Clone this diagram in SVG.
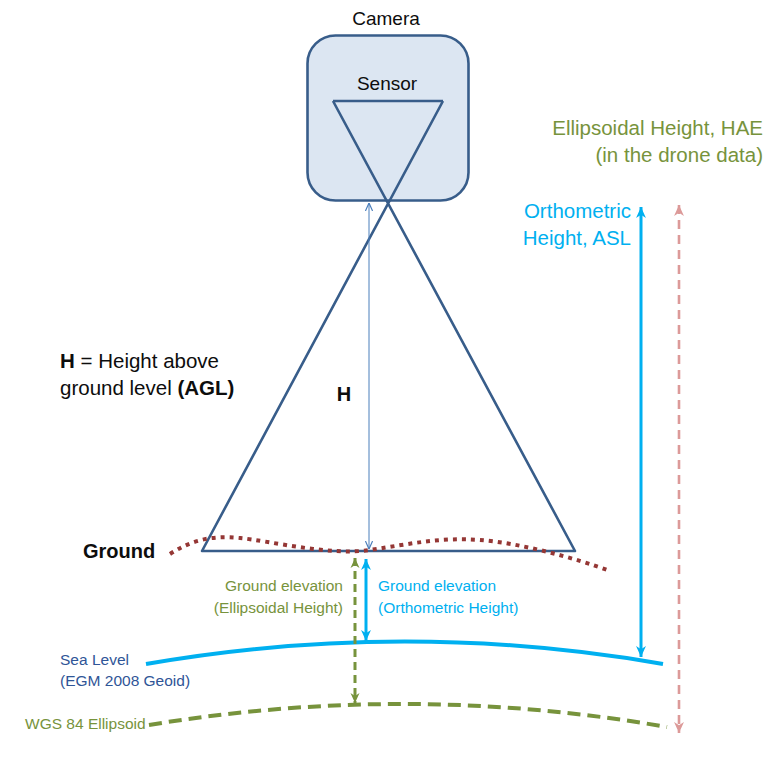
<svg xmlns="http://www.w3.org/2000/svg" width="779" height="771" viewBox="0 0 779 771">
<style>
text{font-family:"Liberation Sans",Arial,sans-serif}
.big{font-size:20.5px}
.small{font-size:15.5px}
.b{font-weight:bold}
.dk{fill:#0d0d0d}
.green{fill:#77933c}
.cyan{fill:#00b0f0}
.navy{fill:#2f5597}
.frame{fill:none;stroke:#385d8a;stroke-width:2.6;stroke-linejoin:round}
</style>
<defs>
<marker id="aH" viewBox="0 0 10 10" refX="10" refY="5" markerWidth="8" markerHeight="8" markerUnits="userSpaceOnUse" orient="auto-start-reverse"><path d="M0,0.5 L10,5 L0,9.5" fill="none" stroke="#4a7ebb" stroke-width="1.5"/></marker>
<marker id="aC" viewBox="0 0 10 10" refX="10" refY="5" markerWidth="11" markerHeight="11" markerUnits="userSpaceOnUse" orient="auto-start-reverse"><path d="M0,0.5 L10,5 L0,9.5 L3,5 z" fill="#00b0f0"/></marker>
<marker id="aG" viewBox="0 0 10 10" refX="10" refY="5" markerWidth="10" markerHeight="10" markerUnits="userSpaceOnUse" orient="auto-start-reverse"><path d="M0,0.5 L10,5 L0,9.5 L3,5 z" fill="#77933c"/></marker>
<marker id="aP" viewBox="0 0 10 10" refX="10" refY="5" markerWidth="11" markerHeight="11" markerUnits="userSpaceOnUse" orient="auto-start-reverse"><path d="M0,0.5 L10,5 L0,9.5 L3,5 z" fill="#dc9a99"/></marker>
</defs>

<g id="camera">
<rect x="307.5" y="35.5" width="161" height="165" rx="28" fill="#dce6f2" stroke="#385d8a" stroke-width="2.6"/>
<text x="386" y="25" text-anchor="middle" class="dk" style="font-size:19px">Camera</text>
<text x="387" y="90" text-anchor="middle" class="dk" style="font-size:19px">Sensor</text>
</g>

<g id="view-cone">
<path class="frame" d="M333,101 L443,101 M333,101 L575,551 L202,551 L443,101"/>
</g>

<g id="ground">
<path d="M170,554 C190,541 210,535 240,538 S330,556 370,550 S440,537 480,540 S575,558 610,571" fill="none" stroke="#953735" stroke-width="4" stroke-dasharray="4,5"/>
<text x="83" y="558" class="b dk" style="font-size:20px">Ground</text>
</g>

<g id="sea-level">
<path d="M146,664 Q405,619 663,664" fill="none" stroke="#00b0f0" stroke-width="4"/>
<text x="60" y="665" class="small navy">Sea Level</text>
<text x="60" y="686" class="small navy">(EGM 2008 Geoid)</text>
</g>

<g id="ellipsoid">
<path d="M149,725 Q408,682 667,727" fill="none" stroke="#77933c" stroke-width="4" stroke-dasharray="13,7"/>
<text x="25" y="729" class="small green">WGS 84 Ellipsoid</text>
</g>

<g id="connectors">
<line x1="369" y1="203" x2="369" y2="549" stroke="#4a7ebb" stroke-width="1" marker-start="url(#aH)" marker-end="url(#aH)"/>
<line x1="355" y1="558" x2="355" y2="703" stroke="#77933c" stroke-width="3" stroke-dasharray="8,5" marker-start="url(#aG)" marker-end="url(#aG)"/>
<line x1="366" y1="559" x2="366" y2="641" stroke="#00b0f0" stroke-width="3" marker-start="url(#aC)" marker-end="url(#aC)"/>
<line x1="641" y1="207" x2="641" y2="657" stroke="#00b0f0" stroke-width="3" marker-start="url(#aC)" marker-end="url(#aC)"/>
<line x1="679" y1="205" x2="679" y2="733" stroke="#dc9a99" stroke-width="2.6" stroke-dasharray="9,6" marker-start="url(#aP)" marker-end="url(#aP)"/>
</g>

<g id="labels">
<text x="344" y="401" text-anchor="middle" class="b dk" style="font-size:20px">H</text>
<text x="60" y="368" class="big dk"><tspan class="b">H</tspan> = Height above</text>
<text x="60" y="395" class="big dk">ground level <tspan class="b">(AGL)</tspan></text>
<text x="631" y="218" text-anchor="end" class="big cyan">Orthometric</text>
<text x="631" y="245" text-anchor="end" class="big cyan">Height, ASL</text>
<text x="763" y="135" text-anchor="end" class="big green">Ellipsoidal Height, HAE</text>
<text x="763" y="162" text-anchor="end" class="big green">(in the drone data)</text>
<text x="343" y="591" text-anchor="end" class="small green">Ground elevation</text>
<text x="343" y="613" text-anchor="end" class="small green">(Ellipsoidal Height)</text>
<text x="378" y="591" class="small cyan">Ground elevation</text>
<text x="378" y="613" class="small cyan">(Orthometric Height)</text>
</g>
</svg>
